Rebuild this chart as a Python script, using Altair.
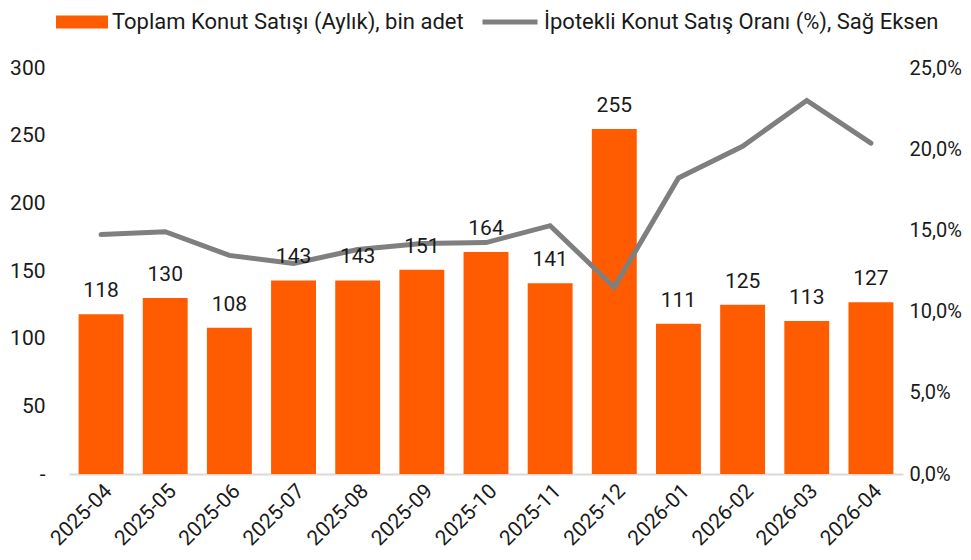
import altair as alt
import pandas as pd

months = ["2025-04", "2025-05", "2025-06", "2025-07", "2025-08", "2025-09", "2025-10",
          "2025-11", "2025-12", "2026-01", "2026-02", "2026-03", "2026-04"]
sales = [118, 130, 108, 143, 143, 151, 164, 141, 255, 111, 125, 113, 127]
mortgage_share = [0.1474, 0.1492, 0.1346, 0.1297, 0.1382, 0.1419, 0.1425, 0.1529,
                  0.1150, 0.1823, 0.2018, 0.2300, 0.2037]

s1 = "Toplam Konut Satışı (Aylık), bin adet"
s2 = "İpotekli Konut Satış Oranı (%), Sağ Eksen"

df = pd.DataFrame({"month": months, "sales": sales, "share": mortgage_share,
                   "s1": s1, "s2": s2})

FONT = "Roboto"
TXT = "#1a1a1a"
FS = 21
LFS = 22

x = alt.X("month:N", sort=months, title=None,
          scale=alt.Scale(paddingInner=0.3, paddingOuter=0.15),
          axis=alt.Axis(labelAngle=-45, labelFontSize=FS, labelColor=TXT, labelFont=FONT,
                        ticks=False, domainColor="#d9d9d9", domainWidth=2, labelPadding=6))

bars = alt.Chart(df).mark_bar(color="#FF5B00").encode(
    x=x,
    y=alt.Y("sales:Q", title=None,
            scale=alt.Scale(domain=[0, 300], nice=False),
            axis=alt.Axis(values=[0, 50, 100, 150, 200, 250, 300], grid=False, domain=False,
                          ticks=False, labelFontSize=FS, labelColor=TXT, labelFont=FONT,
                          labelPadding=24, labelExpr="datum.value == 0 ? '-' : datum.label")),
    color=alt.Color("s1:N", scale=alt.Scale(range=["#FF5B00"]),
                    legend=alt.Legend(title=None, orient="none", legendX=-13, legendY=-72,
                                      symbolType="M-1,-0.25H1V0.25H-1Z", symbolSize=2704,
                                      symbolStrokeWidth=0, symbolOpacity=1,
                                      labelFontSize=LFS, labelFont=FONT, labelColor=TXT,
                                      labelOffset=4, labelLimit=0)))

line = alt.Chart(df).mark_line(strokeWidth=5, strokeCap="round", strokeJoin="miter").encode(
    x=alt.X("month:N", sort=months),
    y=alt.Y("share:Q", title=None,
            scale=alt.Scale(domain=[0, 0.25], nice=False),
            axis=alt.Axis(orient="right", values=[0, 0.05, 0.1, 0.15, 0.2, 0.25], format=".1%",
                          grid=False, domain=False, ticks=False, labelFontSize=20,
                          labelColor=TXT, labelFont=FONT, labelPadding=6,
                          labelExpr="replace(datum.label, '.', ',')")),
    stroke=alt.Stroke("s2:N", scale=alt.Scale(range=["#7F7F7F"]),
                      legend=alt.Legend(title=None, orient="none", legendX=411, legendY=-76,
                                        symbolType="stroke", symbolSize=3025,
                                        symbolStrokeWidth=5, labelFontSize=LFS,
                                        labelFont=FONT, labelColor=TXT, labelOffset=4,
                                        labelLimit=0)))

text = alt.Chart(df).mark_text(baseline="alphabetic", dy=-17, fontSize=FS, font=FONT,
                               color=TXT).encode(
    x=alt.X("month:N", sort=months),
    y=alt.Y("sales:Q", scale=alt.Scale(domain=[0, 300], nice=False), axis=None),
    text="sales:Q")

chart = alt.layer(bars, line, text).resolve_scale(y="independent").properties(
    width=834, height=406,
    background="white",
    autosize=alt.AutoSizeParams(type="none"),
    padding={"left": 61, "top": 60, "right": 60, "bottom": 90},
).configure_view(stroke=None)

chart.save("out.html", embed_options={"renderer": "svg", "actions": False})
